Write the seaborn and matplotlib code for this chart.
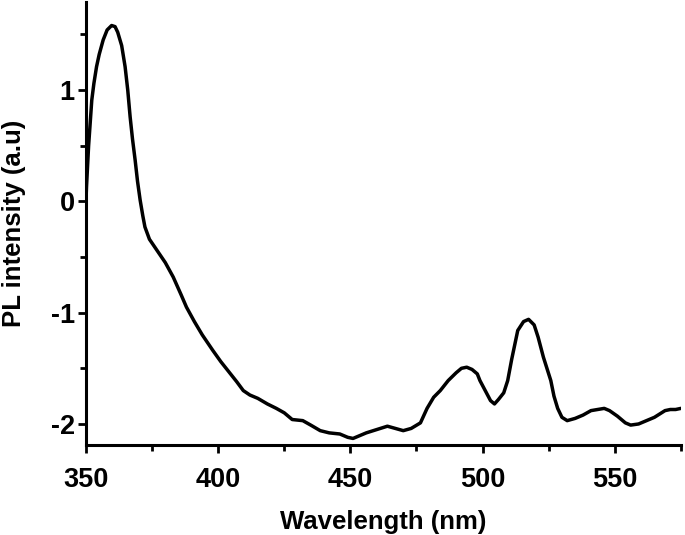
import pandas as pd
import matplotlib.pyplot as plt
import seaborn as sns
from matplotlib.ticker import MultipleLocator

# PL spectrum
wavelength = [350, 350.2, 351, 352.2, 353, 354, 355, 356.5, 358, 359.7,
              361, 362, 363.5, 364.8, 365.8, 366.7, 367.6, 368.6, 369.5, 370.5,
              371.5, 372.3, 374, 376, 378, 380, 383, 386, 388, 391,
              394, 398, 401, 404, 407, 409.5, 412, 415, 418.6, 422,
              425, 428, 432, 435, 438.6, 442, 446, 449, 451, 453,
              456, 460, 464, 467, 470, 473, 476.5, 479, 481.5, 484,
              487, 490, 492, 494, 496, 498, 499, 501, 503, 504.5,
              506, 508, 509.5, 511, 513.3, 515.5, 517.4, 519.5, 521, 523,
              525.8, 527, 528.4, 530, 532, 535, 538, 541, 543.5, 546,
              548, 551, 554, 556, 559, 562, 565, 567, 569, 571,
              573, 575]
intensity = [0.0, 0.13, 0.5, 0.91, 1.06, 1.21, 1.32, 1.45, 1.54, 1.58,
             1.57, 1.52, 1.40, 1.21, 1.0, 0.76, 0.56, 0.37, 0.18, 0.01,
             -0.13, -0.23, -0.34, -0.41, -0.48, -0.55, -0.68, -0.84, -0.95, -1.08,
             -1.2, -1.34, -1.44, -1.53, -1.62, -1.70, -1.74, -1.77, -1.82, -1.86,
             -1.9, -1.96, -1.97, -2.01, -2.06, -2.08, -2.09, -2.12, -2.13, -2.11,
             -2.08, -2.05, -2.02, -2.04, -2.06, -2.04, -1.99, -1.86, -1.76, -1.70,
             -1.61, -1.54, -1.50, -1.49, -1.51, -1.55, -1.61, -1.70, -1.79, -1.82,
             -1.78, -1.72, -1.61, -1.42, -1.16, -1.08, -1.06, -1.11, -1.22, -1.40,
             -1.61, -1.75, -1.86, -1.94, -1.97, -1.95, -1.92, -1.88, -1.87, -1.86,
             -1.88, -1.93, -1.99, -2.01, -2.0, -1.97, -1.94, -1.91, -1.88, -1.87,
             -1.87, -1.86]

df = pd.DataFrame({'Wavelength': wavelength, 'Intensity': intensity})

sns.set_style('ticks', {'axes.edgecolor': 'black', 'text.color': 'black',
                        'axes.labelcolor': 'black', 'xtick.color': 'black',
                        'ytick.color': 'black'})
plt.rcParams['font.family'] = ['Liberation Sans', 'DejaVu Sans']
plt.rcParams['font.weight'] = 'bold'
plt.rcParams['axes.unicode_minus'] = False

fig = plt.figure(figsize=(6.85, 5.35), dpi=100)
ax = fig.add_axes([0.1255, 0.168, 0.8685, 0.828])
sns.lineplot(data=df, x='Wavelength', y='Intensity', color='black', lw=2.5, ax=ax)

ax.set_xlim(350, 575)
ax.set_ylim(-2.19, 1.79)
ax.xaxis.set_major_locator(MultipleLocator(50))
ax.xaxis.set_minor_locator(MultipleLocator(25))
ax.yaxis.set_major_locator(MultipleLocator(1))
ax.yaxis.set_minor_locator(MultipleLocator(0.5))
ax.tick_params(which='major', direction='out', length=6, width=2, labelsize=19.5)
ax.tick_params(which='minor', direction='out', length=4, width=2)
ax.tick_params(axis='x', which='major', pad=10)
ax.tick_params(axis='y', which='major', pad=2)
for lab in ax.get_xticklabels() + ax.get_yticklabels():
    lab.set_fontweight('bold')

sns.despine(ax=ax)
ax.spines['left'].set_linewidth(2.2)
ax.spines['bottom'].set_linewidth(2.2)

ax.set_xlabel('Wavelength (nm)', fontsize=18.5, fontweight='bold', labelpad=12)
ax.set_ylabel('PL intensity (a.u)', fontsize=18.5, fontweight='bold', labelpad=18)

fig.savefig('out.png', dpi=100)
